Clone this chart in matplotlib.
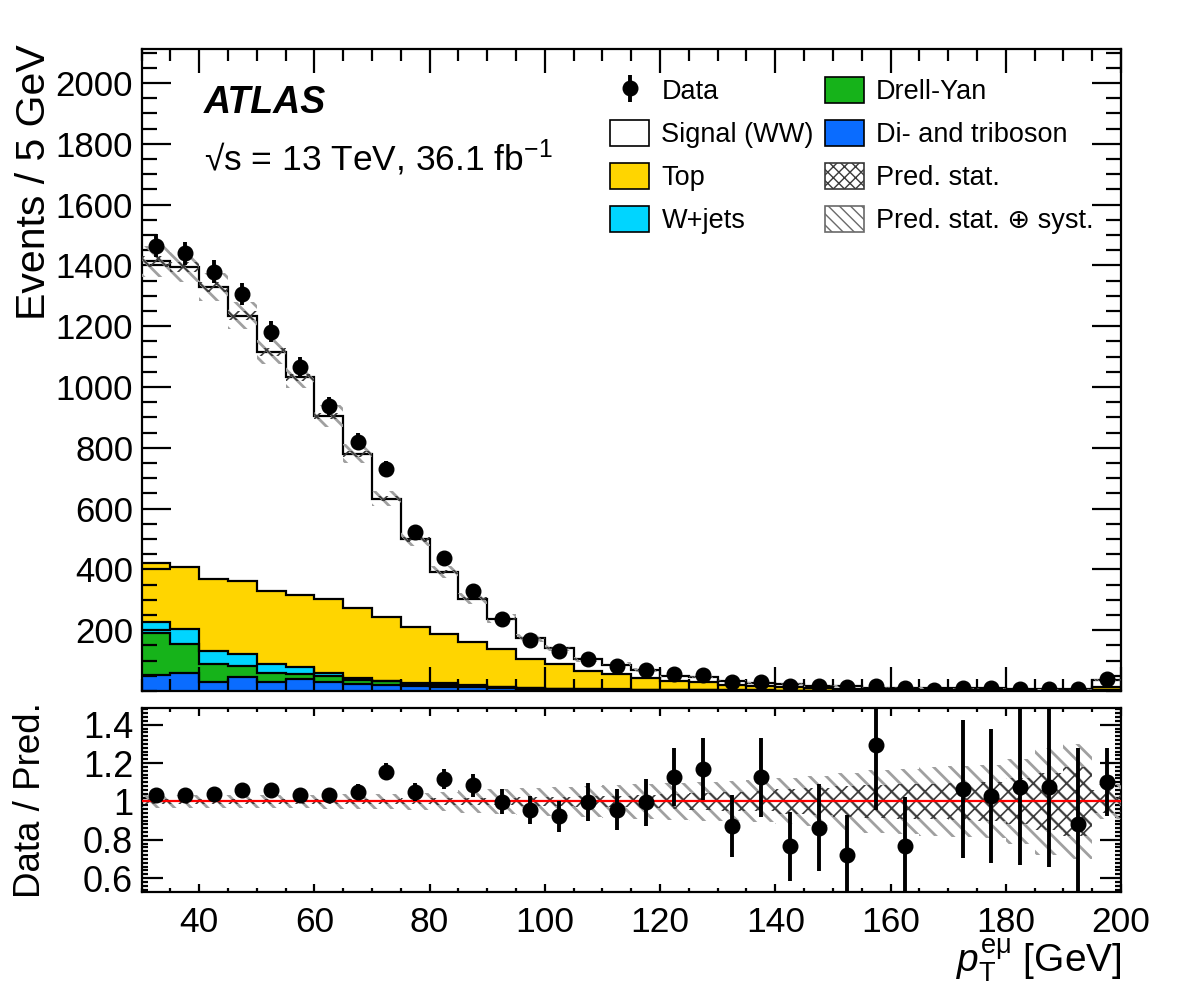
import numpy as np
import matplotlib
matplotlib.use("Agg")
import matplotlib.pyplot as plt
from matplotlib.patches import Patch
from matplotlib.ticker import MultipleLocator, FixedLocator

plt.rcParams['font.family'] = ['Liberation Sans', 'DejaVu Sans']
plt.rcParams['mathtext.fontset'] = 'custom'
plt.rcParams['mathtext.rm'] = 'Liberation Sans'
plt.rcParams['mathtext.it'] = 'Liberation Sans:italic'
plt.rcParams['mathtext.bf'] = 'Liberation Sans:bold'

# ---------------- data ----------------
bin_edges = list(range(30, 205, 5))
data = [1465, 1440, 1380, 1305, 1182, 1067, 937, 820, 730, 522, 436, 329, 236, 168, 132,
        105, 83, 68, 56, 53, 29, 30, 18, 15, 12, 15, 9, 3, 9, 9, 7, 7, 5, 39]
diboson = [52, 58, 31, 45, 31, 38, 30, 23, 19, 16, 14, 12, 9, 7, 5, 4, 3, 3, 2, 2, 1.5, 1.5,
           1, 1, 0.8, 0.7, 0.6, 0.5, 0.5, 0.4, 0.4, 0.3, 0.3, 2]
drell_yan = [138, 97, 57, 38, 29, 18, 19, 13, 13, 7, 7, 4, 3, 2, 2, 1, 1, 0.5, 1, 0.5, 0.5, 0.5,
             0.3, 0.3, 0.3, 0.2, 0.2, 0.2, 0.2, 0.2, 0.1, 0.1, 0.1, 0.5]
wjets = [38, 48, 45, 39, 28, 22, 9, 6, 2, 4, 4, 3, 2, 2, 1, 1, 1, 0.5, 0.5, 0.5, 0.5, 0,
         0.2, 0.2, 0.2, 0.2, 0.2, 0.1, 0.1, 0.1, 0.1, 0.1, 0.1, 0.5]
top = [192, 206, 234, 241, 242, 238, 244, 230, 211, 185, 163, 143, 123, 94, 80, 61, 50, 40,
       29.5, 26, 17.5, 14, 10.5, 7.5, 6.7, 4.9, 4, 3.2, 2.2, 2.3, 1.9, 1.5, 1.5, 9]
signal = [993, 986, 963, 872, 786, 716, 603, 508, 388, 287, 203, 142, 101, 70, 54, 38, 32, 24,
          17, 17, 13, 10, 11.5, 8, 8.5, 5.5, 6.5, 6, 5.5, 5.5, 4, 4, 3.5, 24]
ratio = [1.035, 1.035, 1.04, 1.06, 1.06, 1.035, 1.035, 1.05, 1.155, 1.047, 1.116, 1.083,
         0.997, 0.957, 0.922, 0.997, 0.957, 0.995, 1.127, 1.17, 0.871, 1.126, 0.766, 0.862,
         0.72, 1.296, 0.765, np.nan, 1.065, 1.027, 1.076, 1.076, 0.88, 1.10]
ratio_err = [0.027, 0.027, 0.028, 0.029, 0.031, 0.033, 0.035, 0.038, 0.043, 0.047, 0.054,
             0.06, 0.065, 0.073, 0.08, 0.098, 0.106, 0.122, 0.152, 0.163, 0.163, 0.206, 0.18,
             0.227, 0.21, 0.34, 0.26, np.nan, 0.36, 0.35, 0.41, 0.42, 0.40, 0.177]
stat_unc = [0.012, 0.012, 0.012, 0.012, 0.012, 0.012, 0.012, 0.013, 0.014, 0.015, 0.017, 0.018,
            0.02, 0.023, 0.025, 0.028, 0.03, 0.035, 0.04, 0.045, 0.05, 0.052, 0.065, 0.07,
            0.08, 0.085, 0.09, 0.09, 0.095, 0.1, 0.12, 0.15, 0.18, 0.06]
syst_unc = [0.035, 0.035, 0.035, 0.035, 0.035, 0.035, 0.04, 0.04, 0.04, 0.045, 0.05, 0.06,
            0.065, 0.07, 0.075, 0.08, 0.085, 0.09, 0.095, 0.1, 0.105, 0.11, 0.12, 0.13, 0.15,
            0.165, 0.17, 0.18, 0.185, 0.19, 0.22, 0.28, 0.3, 0.09]
x_ticks = [40, 60, 80, 100, 120, 140, 160, 180, 200]
y_ticks = [200, 400, 600, 800, 1000, 1200, 1400, 1600, 1800, 2000]
r_ticks = [0.6, 0.8, 1.0, 1.2, 1.4]
r_tick_labels = ["0.6", "0.8", "1", "1.2", "1.4"]

# ---------------- figure ----------------
W, H = 1182, 998
fig = plt.figure(figsize=(W / 100, H / 100), dpi=100)

def fx(x):
    return x / W

def fy(y):
    return 1 - y / H

L, R = 141.5, 1121
ax = fig.add_axes([fx(L), fy(691), (R - L) / W, (691 - 49) / H])
ax2 = fig.add_axes([fx(L), fy(892), (R - L) / W, (892 - 708) / H])

edges = np.array(bin_edges, dtype=float)
centers = 0.5 * (edges[1:] + edges[:-1])

c_dib = '#0a6cff'
c_dy = '#16b31a'
c_wj = '#00d5ff'
c_top = '#ffd500'

comps = [(diboson, c_dib), (drell_yan, c_dy), (wjets, c_wj), (top, c_top), (signal, 'white')]
base = np.zeros(len(centers))
for vals, col in comps:
    v = np.array(vals, dtype=float)
    ax.stairs(base + v, edges, baseline=base.copy(), fill=True, facecolor=col,
              edgecolor='none', zorder=1)
    ax.stairs(base + v, edges, baseline=None, color='black', lw=1.6, zorder=2)
    base = base + v
total = base

def hatch_band(a, lo, hi, hatch, color, hlw, z):
    plt.rcParams['hatch.linewidth'] = hlw
    p = a.stairs(hi, edges, baseline=lo, fill=True, facecolor='none', edgecolor=color,
                 hatch=hatch, lw=0, zorder=z)
    try:
        p.set_hatch_linewidth(hlw)
    except Exception:
        pass
    return p

syst = np.array(syst_unc)
stat = np.array(stat_unc)
hatch_band(ax, total * (1 - syst), total * (1 + syst), '\\\\', '#a0a0a0', 2.0, 3)
hatch_band(ax, total * (1 - stat), total * (1 + stat), 'xx', '#3c3c3c', 1.2, 4)

d = np.array(data, dtype=float)
eb = ax.errorbar(centers, d, yerr=np.sqrt(d), fmt='o', color='black', ms=10.5,
                 elinewidth=2.8, capsize=0, zorder=6)

ax.set_xlim(30, 200)
ax.set_ylim(0, 2112)

# ratio
hatch_band(ax2, 1 - syst, 1 + syst, '\\\\', '#a0a0a0', 2.0, 3)
hatch_band(ax2, 1 - stat, 1 + stat, 'xx', '#3c3c3c', 1.2, 4)
ax2.axhline(1.0, color='#ff0000', lw=1.6, zorder=5)
ax2.errorbar(centers, ratio, yerr=ratio_err, fmt='o', color='black', ms=10.5,
             elinewidth=2.8, capsize=0, zorder=6)
ax2.set_xlim(30, 200)
ax2.set_ylim(0.527, 1.487)

# ticks
for a in (ax, ax2):
    for s in a.spines.values():
        s.set_linewidth(1.6)
ax.xaxis.set_major_locator(FixedLocator(x_ticks))
ax.xaxis.set_minor_locator(MultipleLocator(5))
ax.set_xticklabels([])
ax.yaxis.set_major_locator(FixedLocator(y_ticks))
ax.yaxis.set_minor_locator(MultipleLocator(50))
ax.set_yticklabels([str(t) for t in y_ticks])
ax.tick_params(axis='both', which='both', direction='in', top=True, right=True,
               labelsize=25, width=1.6, pad=6)
ax.tick_params(axis='y', which='major', length=21)
ax.tick_params(axis='y', which='minor', length=10.5)
ax.tick_params(axis='x', which='major', length=17)
ax.tick_params(axis='x', which='minor', length=8.5)

ax2.xaxis.set_major_locator(FixedLocator(x_ticks))
ax2.xaxis.set_minor_locator(MultipleLocator(5))
ax2.set_xticklabels([str(t) for t in x_ticks])
ax2.yaxis.set_major_locator(FixedLocator(r_ticks))
ax2.yaxis.set_minor_locator(MultipleLocator(0.02))
ax2.set_yticklabels(r_tick_labels)
ax2.tick_params(axis='both', which='both', direction='in', top=True, right=True,
                labelsize=26, width=1.6, pad=6)
ax2.tick_params(axis='x', labelsize=25.5)
ax2.tick_params(axis='y', which='major', length=15)
ax2.tick_params(axis='y', which='minor', length=4)
ax2.tick_params(axis='x', which='major', length=6, pad=10)
ax2.tick_params(axis='x', which='minor', length=3)

# labels
fig.text(fx(34), fy(44), 'Events / 5 GeV', rotation=90, ha='center', va='top', fontsize=29.5)
fig.text(fx(31), fy(800), 'Data / Pred.', rotation=90, ha='center', va='center', fontsize=26.5)
fig.text(fx(1122), fy(960), r'$p_{\mathrm{T}}^{\mathrm{e\mu}}$ [GeV]', ha='right',
         va='center', fontsize=28)

fig.text(fx(204), fy(103), 'ATLAS', fontsize=27, fontweight='bold', fontstyle='italic',
         ha='left', va='center')
fig.text(fx(204), fy(158), '√s = 13 TeV, 36.1 fb$^{\\mathregular{-1}}$', fontsize=25.5,
         ha='left', va='center')

# legend
handles = [
    eb,
    Patch(facecolor='white', edgecolor='black', lw=1.2),
    Patch(facecolor=c_top, edgecolor='black', lw=1.2),
    Patch(facecolor=c_wj, edgecolor='black', lw=1.2),
    Patch(facecolor=c_dy, edgecolor='black', lw=1.2),
    Patch(facecolor=c_dib, edgecolor='black', lw=1.2),
    Patch(facecolor='white', edgecolor='#3a3a3a', hatch='xxx', lw=1.2),
    Patch(facecolor='white', edgecolor='#6a6a6a', hatch='\\\\\\', lw=1.2),
]
labels = ['Data', 'Signal (WW)', 'Top', 'W+jets', 'Drell-Yan', 'Di- and triboson',
          'Pred. stat.', 'Pred. stat. ⊕ syst.']
plt.rcParams['hatch.linewidth'] = 1.0
leg = ax.legend(handles, labels, ncol=2, loc='upper left',
                bbox_to_anchor=(fx(610), fy(77)), bbox_transform=fig.transFigure,
                frameon=False, fontsize=19.5, handlelength=1.45, handleheight=1.1,
                handletextpad=0.45, columnspacing=0.4, labelspacing=0.54,
                borderaxespad=0, borderpad=0)

fig.savefig('out.png', dpi=100)
